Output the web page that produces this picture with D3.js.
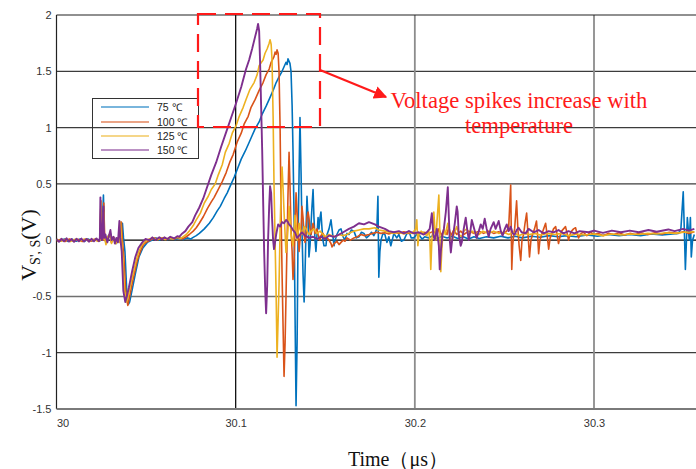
<!DOCTYPE html>
<html><head><meta charset="utf-8">
<script src="https://cdn.jsdelivr.net/npm/d3@7"></script>
<style>body{margin:0;background:#fff}svg{display:block}</style>
</head><body>
<svg id="chart" width="696" height="469"></svg>
<script>
// Axis ticks
const yTicks = [-1.5, -1, -0.5, 0, 0.5, 1, 1.5, 2];
const xTicks = [30, 30.1, 30.2, 30.3];
const seriesNames = ["75 ℃", "100 ℃", "125 ℃", "150 ℃"];
const seriesColors = ["#0072BD", "#D95319", "#EDB120", "#7E2F8E"];

// Measured V_S',S traces: [time in ns after 30 µs, voltage in V]
const trace75 = [[0,0.005],[2.2,-0.01],[4.4,0.01],[6.6,-0.012],[8.8,0.008],[11,-0.01],[13.2,0.01],[15.4,-0.012],[17.6,0.01],[19.8,-0.008],[22,0.01],[23.8,-0.01],[24.8,0.0],[25.4,0.05],[26.2,0.4],[26.7,0.03],[27.6,-0.02],[28.6,0.03],[30.1,0.06],[31.0,0.0],[32.2,0.02],[33.4,-0.03],[34.6,0.01],[36.0,-0.02],[36.8,0.15],[37.4,0.02],[38.2,-0.1],[39.2,-0.45],[40.1,-0.57],[40.8,-0.55],[42.1,-0.45],[44.0,-0.3],[46.0,-0.15],[48.2,-0.07],[50.7,-0.02],[53.5,0.0],[55.5,0.02],[57.4,0.0],[59.6,0.02],[61.8,0.005],[64.0,0.02],[66.2,0.005],[68.5,0.02],[70.7,0.005],[72.9,0.02],[75.0,0.01],[75.8,0.02],[78.0,0.04],[79.7,0.06],[82.5,0.1],[85.3,0.15],[87.5,0.2],[89.7,0.26],[91.4,0.3],[93.6,0.37],[95.3,0.42],[97.5,0.5],[99.2,0.56],[101.4,0.65],[103.1,0.72],[105.3,0.79],[107.0,0.85],[109.2,0.93],[110.9,0.99],[113.1,1.05],[114.8,1.12],[117.0,1.19],[118.7,1.25],[120.9,1.33],[122.6,1.4],[124.2,1.45],[125.9,1.5],[127.0,1.54],[128.1,1.58],[128.7,1.56],[129.2,1.61],[130.3,1.57],[130.9,1.5],[131.5,1.2],[132.0,0.8],[132.6,0.2],[133.1,-0.6],[133.7,-1.47],[134.3,-0.9],[134.8,0.0],[135.4,0.6],[135.9,1.09],[136.5,0.6],[137.0,0.1],[137.6,-0.3],[138.2,-0.55],[138.7,-0.3],[139.3,0.1],[139.8,0.39],[140.4,0.2],[140.9,-0.15],[141.5,-0.05],[142.1,0.15],[142.6,0.3],[143.2,0.45],[143.7,0.2],[144.3,0.0],[144.8,-0.1],[145.4,0.05],[146.0,0.2],[146.5,0.1],[147.1,0.2],[147.6,0.25],[148.2,0.1],[148.7,0.0],[149.3,-0.05],[150.4,-0.05],[151.0,0.05],[152.1,0.1],[153.2,0.18],[153.8,0.1],[154.9,-0.05],[155.5,0.0],[156.5,0.05],[157.7,0.09],[158.8,0.1],[160.0,0.03],[161.0,0.0],[162.1,0.06],[163.2,0.05],[164.6,0.09],[166.0,0.08],[167.4,0.02],[168.8,0.03],[170.2,0.07],[171.6,0.06],[173.0,0.02],[174.4,0.04],[175.8,0.07],[177.1,0.04],[177.7,0.06],[178.8,0.1],[179.4,0.39],[179.9,-0.33],[180.5,-0.1],[181.1,0.0],[182.2,0.06],[183.3,0.05],[184.4,-0.02],[185.5,0.03],[186.6,-0.05],[187.7,0.02],[188.3,0.06],[189.9,0.02],[191.1,0.05],[192.5,-0.01],[193.9,0.0],[195.3,0.05],[196.7,0.08],[198.0,0.02],[199.4,0.02],[201.0,0.05],[202.2,0.05],[204.0,0.01],[205.5,0.03],[207.8,0.02],[210.0,0.04],[212.5,0.01],[215.0,0.035],[218.0,0.02],[221.0,0.035],[224.0,0.015],[227.0,0.03],[230.0,0.01],[233.0,0.03],[236.0,0.015],[240.0,0.03],[244.0,0.02],[248.0,0.035],[252.0,0.02],[256.0,0.035],[260.0,0.02],[265.0,0.035],[270.0,0.025],[275.0,0.04],[280.0,0.03],[285.0,0.04],[290.0,0.03],[296.0,0.045],[302.0,0.035],[308.0,0.05],[314.0,0.04],[320.0,0.05],[326.0,0.04],[332.0,0.055],[338.0,0.045],[344.0,0.055],[347.1,0.06],[348.5,0.1],[349.8,0.43],[350.4,0.1],[351.0,-0.26],[351.6,0.0],[352.1,0.2],[352.6,0.1],[353.2,0.0],[353.8,0.2],[354.3,-0.15],[355.0,0.0],[356.0,0.05]];

const trace100 = [[0,-0.01],[2.4,0.008],[4.8,-0.012],[7.2,0.01],[9.6,-0.01],[12,0.008],[14.4,-0.012],[16.8,0.01],[19.2,-0.01],[21.6,0.008],[23.6,-0.01],[24.3,0.0],[24.8,0.35],[25.3,0.02],[26.0,0.0],[26.4,0.33],[26.9,0.02],[27.8,-0.03],[28.8,0.02],[29.8,0.05],[30.6,-0.02],[31.8,0.03],[33.0,-0.03],[34.4,0.02],[35.6,-0.02],[36.2,0.16],[36.8,0.0],[37.6,-0.15],[38.6,-0.45],[39.8,-0.58],[40.6,-0.52],[42.3,-0.38],[43.4,-0.3],[45.1,-0.18],[46.8,-0.1],[48.5,-0.04],[50.1,-0.02],[52.4,0.0],[54.6,0.02],[56.8,0.005],[59.0,0.02],[61.2,0.005],[63.4,0.02],[65.7,0.01],[67.9,0.025],[70.2,0.01],[72.4,0.03],[74.1,0.05],[76.3,0.08],[78.0,0.11],[79.7,0.15],[82.0,0.21],[84.2,0.28],[86.4,0.34],[88.0,0.38],[90.3,0.45],[92.5,0.52],[94.7,0.6],[96.9,0.7],[98.6,0.76],[100.8,0.87],[103.1,0.95],[104.7,1.03],[107.0,1.1],[108.6,1.18],[110.9,1.25],[113.1,1.33],[115.3,1.4],[117.0,1.47],[118.7,1.52],[119.8,1.58],[121.4,1.63],[122.0,1.67],[122.6,1.65],[123.1,1.69],[123.7,1.66],[124.2,1.5],[124.8,1.0],[125.3,0.3],[125.9,-0.3],[126.5,-0.8],[127.0,-1.21],[127.6,-0.9],[128.1,-0.5],[128.7,0.0],[129.2,0.4],[129.8,0.78],[130.3,0.5],[130.9,0.1],[131.5,-0.1],[132.0,-0.35],[132.6,-0.2],[133.1,0.1],[133.7,0.42],[134.3,0.25],[134.8,0.05],[135.4,-0.1],[135.9,0.0],[136.5,0.1],[137.0,0.3],[137.6,0.2],[138.2,0.05],[138.7,-0.02],[139.3,0.05],[139.8,0.2],[140.4,0.25],[140.9,0.2],[141.5,0.1],[142.1,0.05],[143.2,0.15],[143.7,0.12],[144.3,0.06],[145.4,0.1],[146.0,0.05],[147.1,0.0],[147.6,0.04],[148.7,0.06],[149.9,0.02],[151.0,0.02],[152.1,0.0],[153.2,-0.03],[153.8,-0.06],[154.9,-0.03],[156.5,-0.01],[157.7,-0.04],[158.8,-0.02],[160.0,0.0],[161.0,-0.01],[162.1,0.02],[164.0,0.0],[166.0,0.02],[168.0,0.03],[169.9,0.05],[172.0,0.04],[174.4,0.05],[176.5,0.06],[178.8,0.07],[181.0,0.06],[183.3,0.065],[185.5,0.055],[188.3,0.07],[191.1,0.06],[193.9,0.075],[196.7,0.06],[199.4,0.07],[202.2,0.055],[205.0,0.07],[207.8,0.06],[210.6,0.08],[212.3,0.04],[213.4,0.1],[215.0,0.04],[216.2,0.09],[218.0,0.05],[218.9,0.12],[220.1,0.04],[221.7,0.09],[223.4,0.05],[225.6,0.08],[227.3,0.05],[230.1,0.08],[232.9,0.06],[235.7,0.08],[238.4,0.06],[241.2,0.08],[244.0,0.06],[246.8,0.075],[249.6,0.06],[251.3,0.08],[252.4,0.12],[253.5,0.49],[254.1,-0.26],[254.6,-0.05],[255.2,0.05],[255.7,0.1],[256.8,0.35],[257.5,0.1],[258.2,-0.05],[259.1,-0.18],[259.8,0.0],[260.7,0.05],[261.5,0.15],[262.4,0.24],[263.2,0.05],[264.0,-0.15],[264.8,0.0],[265.7,0.05],[266.8,0.1],[267.9,0.17],[268.5,0.05],[269.1,-0.12],[269.8,0.0],[270.8,0.05],[271.9,0.1],[273.0,0.15],[273.8,0.05],[274.7,-0.08],[275.5,0.02],[276.3,0.05],[277.4,0.1],[278.6,0.12],[279.4,0.05],[280.2,-0.03],[281.0,0.03],[281.9,0.08],[283.0,0.1],[284.1,0.12],[285.0,0.06],[285.8,0.0],[286.6,0.05],[287.5,0.08],[288.6,0.1],[289.7,0.11],[290.5,0.06],[291.4,0.02],[292.8,0.06],[294.1,0.07],[296.0,0.04],[298.0,0.07],[300.0,0.05],[302.5,0.06],[305.0,0.04],[308.0,0.06],[311.0,0.05],[314.0,0.065],[317.0,0.045],[320.0,0.06],[323.0,0.05],[326.0,0.065],[330.0,0.05],[334.0,0.065],[338.0,0.055],[342.0,0.07],[346.0,0.06],[350.0,0.075],[353.0,0.06],[356.0,0.075]];

const trace125 = [[0,0.008],[2.6,-0.01],[5.2,0.01],[7.8,-0.012],[10.4,0.008],[13,-0.01],[15.6,0.01],[18.2,-0.01],[20.8,0.008],[23.0,-0.01],[24.3,0.0],[24.8,0.34],[25.2,0.03],[25.8,0.0],[26.3,0.25],[26.8,0.02],[27.6,-0.04],[28.6,0.03],[29.9,0.06],[30.7,-0.03],[31.9,0.02],[33.2,-0.03],[34.5,0.01],[35.2,-0.02],[35.7,0.16],[36.3,0.0],[37.0,-0.15],[38.0,-0.45],[39.2,-0.55],[40.0,-0.5],[41.6,-0.38],[42.9,-0.29],[44.5,-0.18],[45.7,-0.11],[47.4,-0.05],[49.6,-0.01],[51.8,0.01],[54.0,0.02],[56.2,0.005],[58.4,0.02],[60.6,0.005],[62.8,0.02],[65.0,0.01],[67.2,0.025],[69.4,0.015],[70.2,0.025],[72.4,0.05],[74.1,0.08],[76.3,0.13],[78.0,0.18],[80.3,0.24],[82.5,0.33],[84.7,0.39],[86.4,0.45],[88.6,0.5],[90.3,0.58],[92.5,0.67],[94.2,0.78],[96.4,0.86],[98.1,0.95],[100.3,1.02],[102.0,1.1],[104.2,1.18],[105.8,1.25],[108.0,1.34],[110.3,1.4],[112.0,1.47],[113.1,1.55],[115.3,1.6],[116.4,1.66],[117.6,1.7],[118.7,1.75],[119.2,1.78],[119.8,1.74],[120.3,1.6],[120.9,1.1],[121.4,0.5],[122.0,0.0],[122.6,-0.5],[123.1,-1.04],[123.7,-0.7],[124.2,-0.4],[124.8,0.1],[125.3,0.4],[125.9,0.65],[126.5,0.45],[127.0,0.25],[127.6,0.05],[128.1,-0.11],[128.7,-0.02],[129.2,0.1],[129.8,0.3],[130.3,0.2],[130.9,0.05],[131.5,0.0],[132.0,-0.05],[132.6,0.08],[133.1,0.22],[133.7,0.15],[134.3,0.0],[134.8,0.05],[135.4,0.15],[136.0,0.1],[137.0,0.05],[138.2,0.12],[139.3,0.1],[140.9,0.05],[142.1,0.08],[143.7,0.1],[145.4,0.06],[147.1,0.08],[148.7,0.05],[150.4,0.03],[152.1,0.05],[153.8,0.04],[155.5,0.03],[157.7,0.05],[160.0,0.04],[162.1,0.05],[164.5,0.07],[166.0,0.08],[168.8,0.09],[171.6,0.1],[174.4,0.1],[177.7,0.11],[179.9,0.09],[183.3,0.08],[185.5,0.07],[188.3,0.06],[191.1,0.07],[193.9,0.055],[196.7,0.07],[198.5,0.06],[200.5,0.1],[201.1,0.18],[201.7,-0.05],[202.3,0.05],[203.5,0.08],[205.0,0.06],[206.7,0.04],[207.8,0.08],[208.4,0.0],[208.9,-0.26],[209.5,0.0],[210.1,0.1],[210.6,0.25],[211.2,0.1],[211.7,0.0],[212.3,0.15],[213.4,0.4],[213.9,0.1],[214.5,-0.28],[215.0,-0.1],[215.6,0.05],[216.2,0.1],[217.0,0.05],[218.4,0.15],[219.5,0.05],[220.6,-0.02],[221.7,0.05],[223.4,0.12],[224.5,0.05],[226.2,0.03],[227.3,0.08],[229.0,0.1],[230.1,0.05],[232.0,0.08],[233.5,0.06],[235.7,0.05],[238.0,0.08],[241.2,0.06],[244.0,0.08],[246.8,0.06],[249.6,0.07],[252.4,0.05],[255.2,0.07],[257.9,0.04],[261.0,0.06],[264.0,0.05],[267.0,0.06],[270.0,0.045],[274.0,0.06],[278.0,0.05],[282.0,0.06],[286.0,0.04],[290.0,0.055],[295.0,0.045],[300.0,0.055],[305.0,0.04],[310.0,0.055],[315.0,0.045],[320.0,0.055],[325.0,0.05],[330.0,0.06],[335.0,0.055],[340.0,0.065],[345.0,0.06],[350.0,0.07],[356.0,0.075]];

const trace150 = [[0,0.01],[1.4,-0.015],[2.8,0.012],[4.2,-0.01],[5.6,0.016],[7,-0.012],[8.4,0.01],[9.8,-0.015],[11.1,0.012],[12.5,-0.01],[13.9,0.014],[15.3,-0.012],[16.7,0.01],[18.1,-0.014],[19.5,0.012],[20.9,-0.01],[22.3,0.015],[23.6,-0.01],[24.2,0.02],[24.5,0.38],[24.9,0.03],[25.5,0.0],[26.2,0.3],[26.6,0.02],[27.3,0.05],[28.4,-0.02],[29.3,0.04],[30.1,0.09],[30.8,0.0],[31.8,0.03],[32.6,-0.03],[33.4,0.02],[34.3,-0.02],[35.1,0.17],[35.6,0.02],[36.4,-0.1],[37.3,-0.45],[38.4,-0.55],[39.2,-0.5],[40.4,-0.42],[42.3,-0.27],[44.0,-0.15],[45.7,-0.07],[47.9,-0.02],[49.6,0.01],[51.8,0.0],[53.5,0.025],[55.2,0.0],[57.4,0.025],[59.0,0.005],[60.2,0.025],[62.0,0.01],[63.5,0.03],[65.7,0.015],[67.4,0.035],[68.5,0.03],[70.2,0.06],[71.9,0.08],[73.6,0.12],[75.8,0.16],[77.4,0.22],[79.7,0.29],[81.9,0.37],[83.6,0.45],[86.4,0.58],[89.1,0.69],[91.9,0.83],[94.7,0.96],[97.5,1.09],[100.3,1.22],[103.1,1.36],[105.8,1.52],[107.5,1.6],[109.2,1.7],[110.9,1.81],[112.0,1.88],[112.5,1.92],[113.1,1.86],[113.6,1.6],[114.2,1.2],[114.8,0.8],[115.4,0.3],[115.9,-0.1],[116.5,-0.45],[117.0,-0.65],[117.6,-0.4],[118.1,0.0],[118.7,0.3],[119.2,0.48],[119.8,0.42],[120.3,0.2],[120.9,0.0],[121.4,-0.08],[122.0,-0.02],[122.6,0.05],[123.7,0.14],[124.8,0.12],[125.9,0.16],[127.0,0.15],[128.1,0.18],[129.2,0.16],[129.8,0.14],[130.9,0.12],[132.0,0.09],[133.1,0.07],[134.3,0.02],[135.9,0.05],[137.0,0.07],[138.7,0.04],[140.9,0.02],[143.2,0.03],[145.4,0.01],[147.6,0.03],[149.9,0.01],[152.1,0.04],[154.9,0.03],[157.7,0.05],[160.0,0.07],[163.2,0.1],[166.0,0.12],[168.8,0.15],[171.6,0.14],[174.4,0.16],[177.7,0.14],[179.9,0.12],[183.3,0.1],[185.5,0.08],[188.3,0.07],[191.1,0.08],[193.9,0.06],[196.7,0.08],[199.4,0.06],[202.2,0.07],[205.0,0.05],[206.7,0.07],[208.3,0.1],[209.5,0.24],[210.3,0.05],[211.1,0.0],[212.3,0.1],[213.4,-0.05],[213.9,-0.26],[214.5,-0.1],[215.4,0.05],[216.2,0.1],[217.3,0.25],[218.4,0.47],[219.0,0.2],[219.5,0.0],[220.1,-0.11],[220.8,0.0],[221.7,0.08],[222.3,0.15],[223.4,0.3],[223.9,0.25],[224.5,0.05],[225.6,-0.05],[226.2,-0.02],[227.3,0.1],[228.4,0.2],[229.2,0.1],[230.1,0.0],[231.0,0.08],[231.8,0.18],[233.5,0.08],[234.5,0.02],[235.7,0.08],[236.8,0.14],[237.9,0.1],[239.0,0.19],[240.1,0.1],[241.2,0.03],[242.3,0.1],[244.0,0.16],[245.1,0.1],[246.8,0.17],[248.0,0.08],[249.0,0.04],[250.2,0.1],[251.3,0.14],[252.4,0.08],[253.5,0.12],[254.6,0.06],[255.7,0.05],[256.8,0.09],[257.9,0.11],[259.6,0.07],[261.8,0.06],[263.5,0.1],[266.3,0.07],[269.1,0.09],[271.9,0.06],[274.7,0.08],[277.4,0.07],[280.2,0.09],[283.0,0.06],[285.8,0.08],[289.1,0.06],[292.0,0.08],[296.9,0.07],[300.0,0.085],[305.0,0.065],[310.0,0.085],[315.0,0.07],[320.0,0.085],[325.0,0.07],[330.4,0.09],[335.0,0.075],[341.5,0.095],[345.0,0.08],[349.8,0.1],[353.0,0.085],[356.0,0.1]];

const traces = [trace75, trace100, trace125, trace150];

const svg = d3.select("#chart");
const W = 696, H = 469;
const plot = {left: 56.5, right: 696, top: 15, bottom: 409};

const x = d3.scaleLinear().domain([30, 30.3]).range([plot.left, 594]);
const y = d3.scaleLinear().domain([-1.5, 2]).range([plot.bottom, plot.top]);
const tOf = d => 30 + d[0] / 1000;

svg.append("rect").attr("width", W).attr("height", H).attr("fill", "#fff");

svg.append("defs").append("clipPath").attr("id", "plotClip")
  .append("rect").attr("x", plot.left).attr("y", plot.top)
  .attr("width", plot.right - plot.left).attr("height", plot.bottom - plot.top);

// Grid
const grid = svg.append("g");
grid.selectAll("line.h").data(yTicks.filter(v => v > -1.5 && v < 2)).join("line")
  .attr("x1", plot.left).attr("x2", plot.right)
  .attr("y1", d => y(d)).attr("y2", d => y(d))
  .attr("stroke", d => d === 0 ? "#000" : (d === -0.5 ? "#707070" : "#3c3c3c"))
  .attr("stroke-width", d => d === -0.5 ? 1.6 : 1.2);
grid.selectAll("line.v").data(xTicks.filter(v => v > 30)).join("line")
  .attr("x1", d => x(d)).attr("x2", d => x(d))
  .attr("y1", plot.top).attr("y2", plot.bottom)
  .attr("stroke", d => d === 30.1 ? "#111" : "#8c8c8c")
  .attr("stroke-width", d => d === 30.1 ? 1.3 : 1.8);

// Frame: top border, left axis, bottom axis
svg.append("line").attr("x1", plot.left).attr("x2", plot.right).attr("y1", plot.top).attr("y2", plot.top)
  .attr("stroke", "#222").attr("stroke-width", 1.2);
svg.append("line").attr("x1", plot.left).attr("x2", plot.left).attr("y1", plot.top).attr("y2", plot.bottom)
  .attr("stroke", "#222").attr("stroke-width", 1.2);
svg.append("line").attr("x1", plot.left).attr("x2", plot.right).attr("y1", plot.bottom).attr("y2", plot.bottom)
  .attr("stroke", "#7a7a7a").attr("stroke-width", 2);

// Traces
const line = d3.line().x(d => x(tOf(d))).y(d => y(d[1]));
svg.append("g").attr("clip-path", "url(#plotClip)")
  .selectAll("path").data(traces).join("path")
  .attr("d", line)
  .attr("fill", "none")
  .attr("stroke", (d, i) => seriesColors[i])
  .attr("stroke-width", (d, i) => i === 3 ? 1.9 : 1.6)
  .attr("stroke-linejoin", "round");

// Tick labels
const yAxis = svg.append("g").attr("transform", `translate(${plot.left},0)`)
  .call(d3.axisLeft(y).tickValues(yTicks).tickSize(0).tickPadding(5).tickFormat(d => String(d)));
yAxis.select(".domain").remove();
yAxis.selectAll("text").attr("font-family", "Arial, 'Liberation Sans', sans-serif").attr("font-size", 11).attr("fill", "#333");

const xAxis = svg.append("g").attr("transform", `translate(0,${plot.bottom})`)
  .call(d3.axisBottom(x).tickValues(xTicks).tickSize(0).tickPadding(10).tickFormat(d => String(d)));
xAxis.select(".domain").remove();
xAxis.selectAll("text").attr("font-family", "Arial, 'Liberation Sans', sans-serif").attr("font-size", 11).attr("fill", "#333");
xAxis.selectAll(".tick").filter(d => d === 30).select("text").attr("dx", 6);

// Axis titles
svg.append("text").attr("x", 398).attr("y", 466).attr("text-anchor", "middle")
  .attr("font-family", "'Liberation Serif', 'Times New Roman', serif").attr("font-size", 20).attr("fill", "#111")
  .text("Time（μs）");

const yTitle = svg.append("text").attr("transform", "translate(36,245) rotate(-90)")
  .attr("text-anchor", "middle")
  .attr("font-family", "'Liberation Serif', 'Times New Roman', serif").attr("fill", "#111");
yTitle.append("tspan").attr("font-size", 22).text("V");
yTitle.append("tspan").attr("font-size", 14).attr("dy", 4).text("S', S");
yTitle.append("tspan").attr("font-size", 22).attr("dy", -4).text("(V)");

// Legend
const legend = svg.append("g");
legend.append("rect").attr("x", 92.5).attr("y", 98.5).attr("width", 106).attr("height", 60)
  .attr("fill", "none").attr("stroke", "#333").attr("stroke-width", 1);
const rowY = [107, 122, 136, 150];
seriesNames.forEach((name, i) => {
  legend.append("line").attr("x1", 101).attr("x2", 149).attr("y1", rowY[i]).attr("y2", rowY[i])
    .attr("stroke", seriesColors[i]).attr("stroke-opacity", 0.7).attr("stroke-width", 1.5);
  legend.append("text").attr("x", 157).attr("y", rowY[i] + 4)
    .attr("font-family", "Arial, 'Liberation Sans', sans-serif").attr("font-size", 10.5).attr("fill", "#222")
    .text(name);
});

// Annotation: dashed box around the peaks, arrow and note
const red = "#ff1a1a";
svg.append("rect").attr("x", 198).attr("y", 14).attr("width", 122).attr("height", 113)
  .attr("fill", "none").attr("stroke", red).attr("stroke-width", 2.2)
  .attr("stroke-dasharray", "18,9");
svg.append("defs").append("marker").attr("id", "arrowHead")
  .attr("viewBox", "0 0 10 10").attr("refX", 9).attr("refY", 5)
  .attr("markerWidth", 6).attr("markerHeight", 6).attr("orient", "auto")
  .append("path").attr("d", "M0,0 L10,5 L0,10 z").attr("fill", red);
svg.append("line").attr("x1", 320).attr("y1", 70).attr("x2", 386).attr("y2", 97)
  .attr("stroke", red).attr("stroke-width", 2.2).attr("marker-end", "url(#arrowHead)");

const note = svg.append("g").attr("font-family", "'Liberation Serif', 'Times New Roman', serif")
  .attr("fill", red).attr("text-anchor", "middle");
const note1 = note.append("text").attr("x", 519).attr("y", 108).attr("font-size", 19).text("Voltage spikes increase with");
const w1 = note1.node().getComputedTextLength();
const fs = 19 * 257 / w1;
note1.attr("font-size", fs);
note.append("text").attr("x", 519).attr("y", 133).attr("font-size", fs).text("temperature");
</script>
</body></html>
